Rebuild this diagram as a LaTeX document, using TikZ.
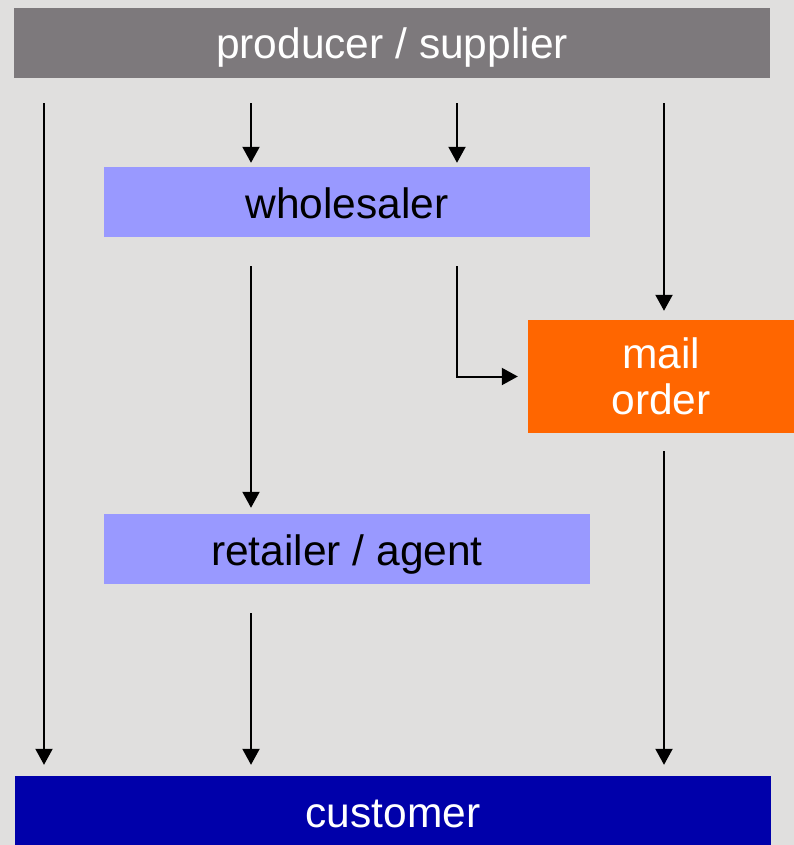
\documentclass[tikz,border=0pt]{standalone}
\usepackage{fontspec}
\setmainfont{Liberation Sans}
\usetikzlibrary{arrows.meta}
\definecolor{bggray}{HTML}{E0DFDE}
\definecolor{prodgray}{HTML}{7D797C}
\definecolor{lavender}{HTML}{9999FF}
\definecolor{mailorange}{HTML}{FF6600}
\definecolor{custblue}{HTML}{0000AA}
\tikzset{
  stagefont/.style={font=\fontsize{42.5}{46}\selectfont},
  stage/.style={rectangle, draw=none, inner sep=0pt, minimum height=70pt,
    stagefont, text height=40pt, text depth=8pt},
  flow/.style={line width=2pt, -{Triangle[length=16pt,width=17pt]}}
}
\begin{document}
\begin{tikzpicture}[x=1pt,y=-1pt]
\fill[bggray] (0,0) rectangle (794,845);
\useasboundingbox (0,0) rectangle (794,845);

% stages of the distribution chain
\node[stage, fill=prodgray, text=white, minimum width=756pt] (prod) at (392,43) {producer / supplier};
\node[stage, fill=lavender, minimum width=486pt] (whole) at (347,202) {wholesaler};
\node[rectangle, inner sep=0pt, fill=mailorange, text=white, minimum width=266pt, minimum height=113pt,
      align=center, stagefont] (mail) at (661,376.5) {mail\\order};
\node[stage, fill=lavender, minimum width=486pt] (retail) at (347,549) {retailer / agent};
\node[stage, fill=custblue, text=white, minimum width=756pt] (cust) at (393,811) {customer};

% columns of the arrows
\coordinate (colA) at (44,0);
\coordinate (colB) at (251,0);
\coordinate (colC) at (457,0);
\coordinate (colD) at (664,0);

% flows
\draw[flow, shorten <=25pt, shorten >=11pt] (prod.south -| colA) -- (cust.north -| colA);
\draw[flow, shorten <=25pt, shorten >=4pt] (prod.south -| colB) -- (whole.north -| colB);
\draw[flow, shorten <=25pt, shorten >=4pt] (prod.south -| colC) -- (whole.north -| colC);
\draw[flow, shorten <=25pt, shorten >=9pt] (prod.south -| colD) -- (mail.north -| colD);
\draw[flow, shorten <=29pt, shorten >=6pt] (whole.south -| colB) -- (retail.north -| colB);
\draw[flow, shorten <=29pt, shorten >=10pt] (whole.south -| colC) |- (mail.west);
\draw[flow, shorten <=18pt, shorten >=11pt] (mail.south -| colD) -- (cust.north -| colD);
\draw[flow, shorten <=29pt, shorten >=11pt] (retail.south -| colB) -- (cust.north -| colB);
\end{tikzpicture}
\end{document}
